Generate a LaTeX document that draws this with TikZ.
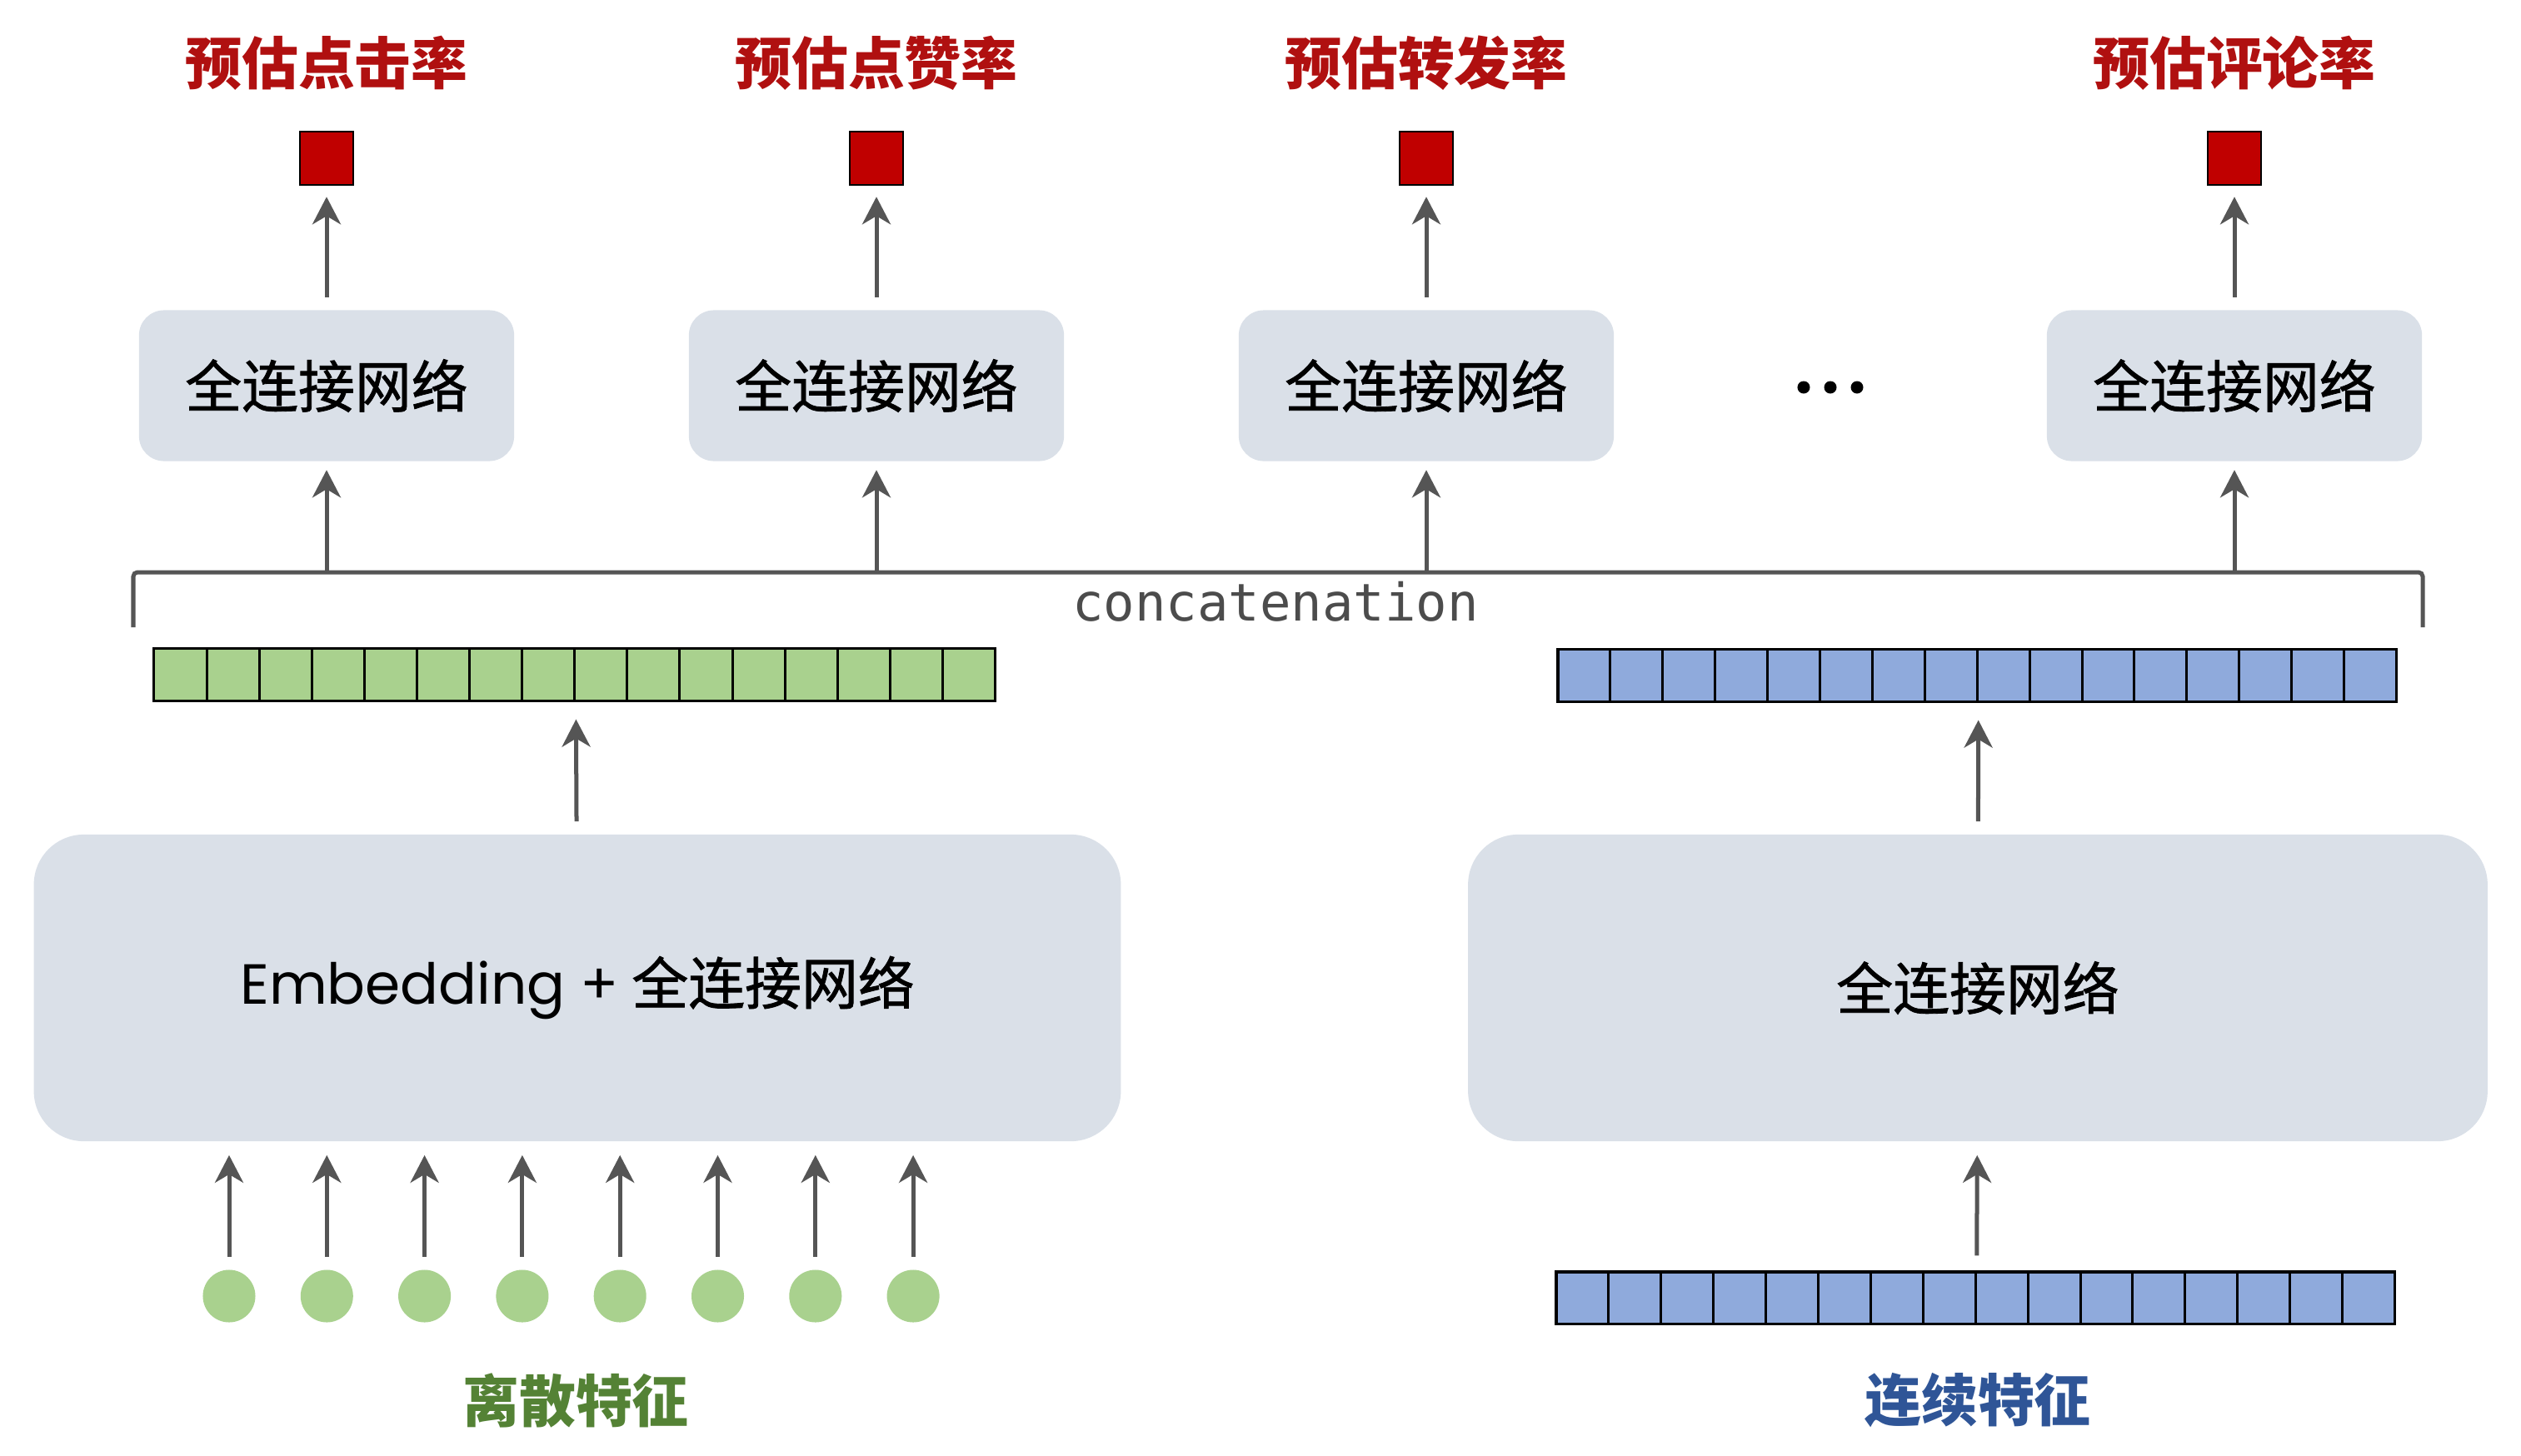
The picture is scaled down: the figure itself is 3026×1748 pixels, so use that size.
\documentclass[tikz,border=0pt]{standalone}
\usepackage{fontspec}
\setmainfont{Noto Sans CJK SC}
\newfontfamily\boxfont[FakeBold=1.2]{Noto Sans CJK SC}
\newfontfamily\embfont{Poppins}
\newfontfamily\catfont{DejaVu Sans Mono}
\usetikzlibrary{arrows.meta,positioning}
\definecolor{predred}{RGB}{176,16,16}
\definecolor{sqred}{RGB}{192,0,0}
\definecolor{boxgray}{RGB}{218,224,232}
\definecolor{cellgreen}{RGB}{169,209,142}
\definecolor{cellblue}{RGB}{143,170,220}
\definecolor{txtgreen}{RGB}{84,130,53}
\definecolor{txtblue}{RGB}{47,85,151}
\definecolor{arrgray}{RGB}{85,85,85}

\begin{document}
\begin{tikzpicture}[
	x=0.01cm, y=-0.01cm,
	every node/.style={inner sep=0pt, font=\fontsize{19.3pt}{23pt}\selectfont},
	fcbox/.style={fill=boxgray, rounded corners=0.3cm, minimum width=4.5cm, minimum height=1.81cm, font=\boxfont\fontsize{19.3pt}{23pt}\selectfont},
	bigbox/.style={fill=boxgray, rounded corners=0.6cm, minimum height=3.68cm, font=\boxfont\fontsize{19.3pt}{23pt}\selectfont},
	outsq/.style={draw=black, line width=0.025cm, fill=sqred, minimum width=0.64cm, minimum height=0.64cm},
	predlabel/.style={text=predred, font=\fontsize{19.3pt}{23pt}\selectfont\bfseries},
	gcell/.style={draw=black, line width=0.03cm, fill=cellgreen, minimum width=0.631cm, minimum height=0.62cm},
	bcell/.style={gcell, fill=cellblue, minimum width=0.629cm},
	feat/.style={circle, fill=cellgreen, minimum size=0.63cm},
	uparrow/.style={draw=arrgray, line width=0.05cm, -{Stealth[length=0.33cm,width=0.34cm,inset=0.1cm]}, shorten <=0.15cm, shorten >=0.13cm},
	bracket/.style={draw=arrgray, line width=0.05cm, rounded corners=0.05cm}
	]
	\useasboundingbox[fill=white] (0,0) rectangle (3026,1748);
	\foreach \i/\x/\lab in {1/392/预估点击率, 2/1052/预估点赞率, 3/1712/预估转发率, 4/2682/预估评论率}
	{
		\node[predlabel] (lab\i) at (\x,76) {\lab};
		\node[outsq] (out\i) at (\x,190) {};
		\node[fcbox] (fc\i) at (\x,463) {\raisebox{-0.04cm}{全连接网络}};
		\coordinate (j\i) at (\x,687);
		\draw[uparrow] (fc\i) -- (out\i);
		\draw[uparrow, shorten <=0pt, shorten >=0.1cm] (j\i) -- (fc\i);
	}
	\coordinate (more) at (2197,465);
	\foreach \k in {-1,0,1}
		\fill ([xshift=\k*0.32cm]more) circle (0.075cm);
	\coordinate (brl) at (160,753);
	\coordinate (brr) at (2908,753);
	\draw[bracket] (brl) -- ++(0,-66) -| (brr);
	\node[text=arrgray!90!black, font=\catfont\fontsize{17.7pt}{21pt}\selectfont] (concat) at (1531,722) {concatenation};
	\foreach \i in {1,...,16}
	{
		\node[gcell] (g\i) at ({185+63.1*(\i-0.5)},810) {};
		\node[bcell] (b\i) at ({1870+62.9*(\i-0.5)},811) {};
		\node[bcell] (c\i) at ({1868+62.9*(\i-0.5)},1558) {};
	}
	\node[bigbox, minimum width=13.04cm] (emb) at (693,1186) {\raisebox{-0.07cm}{{\embfont Embedding +} 全连接网络}};
	\node[bigbox, minimum width=12.23cm] (dense) at (2374,1186) {\raisebox{-0.07cm}{全连接网络}};
	\draw[uparrow, shorten >=0.21cm] (emb) -- (g8.south east);
	\draw[uparrow, shorten >=0.21cm] (dense) -- (b8.south east);
	\draw[uparrow, shorten <=0.18cm, shorten >=0.16cm] (c8.north east) -- (dense);
	\foreach \i in {1,...,8}
	{
		\node[feat] (d\i) at ({275+117.3*(\i-1)},1556) {};
		\draw[uparrow, shorten >=0.16cm] (d\i) -- (d\i |- emb.south);
	}
	\node[text=txtgreen, font=\fontsize{19.3pt}{23pt}\selectfont\bfseries] (disc) at (691,1681) {离散特征};
	\node[text=txtblue, font=\fontsize{19.3pt}{23pt}\selectfont\bfseries] (cont) at (2374,1681) {连续特征};
\end{tikzpicture}
\end{document}
